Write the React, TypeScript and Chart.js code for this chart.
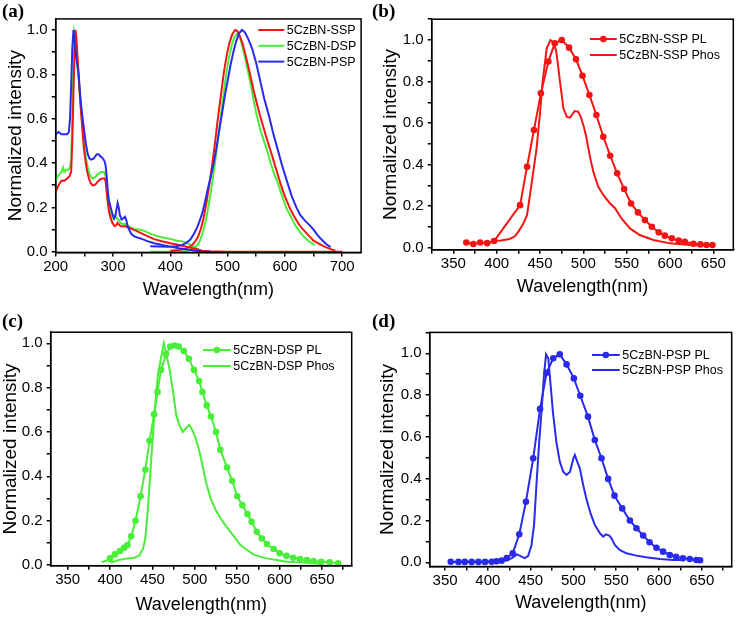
import React, { useEffect, useRef } from 'react';
import { Chart, registerables } from 'chart.js';

Chart.register(...registerables);

// ---------- Panel (a): absorption + emission ----------
const sspAbsWl = [200,205,210,215,220,224,227,229,231,233,234.5,236,238,240,243,246,249,252,255,258,261,264,267,270,273,277,281,285,287,289,291,293,296,299,303,306,308,311,314,318,322,326,330,335,340,348,360,372,385,400,415,430,445,455,470,500,550,600,650,700];
const sspAbsI = [0.27,0.3,0.32,0.32,0.33,0.34,0.36,0.5,0.72,0.9,1.0,0.97,0.88,0.8,0.67,0.57,0.47,0.41,0.36,0.33,0.31,0.3,0.3,0.305,0.315,0.325,0.33,0.33,0.32,0.27,0.22,0.18,0.15,0.13,0.115,0.12,0.13,0.12,0.115,0.115,0.115,0.11,0.107,0.1,0.095,0.085,0.07,0.057,0.047,0.038,0.03,0.022,0.012,0.005,0.002,0,0,0,0,0];
const dspAbsWl = [200,203,207,210,213,215,218,222,225,227,229,231,232.5,234,236,238,241,244,247,250,253,256,259,262,265,268,272,276,280,285,287,289,291,293,296,299,301,304,307,310,313,317,321,325,330,337,345,354,362,372,385,400,412,424,433,441,448,455,465];
const dspAbsI = [0.32,0.34,0.35,0.36,0.38,0.36,0.37,0.37,0.38,0.42,0.6,0.85,0.99,0.97,0.9,0.83,0.75,0.65,0.56,0.48,0.42,0.38,0.35,0.335,0.33,0.335,0.345,0.355,0.36,0.36,0.34,0.28,0.23,0.2,0.17,0.155,0.15,0.165,0.15,0.145,0.13,0.125,0.125,0.12,0.11,0.103,0.1,0.095,0.085,0.075,0.065,0.057,0.05,0.045,0.035,0.023,0.012,0.005,0];
const pspAbsWl = [200,205,210,215,220,223,225,227,229,231,232,234,236,238,240,242,244,247,250,253,256,259,262,266,269,272,275,278,281,285,287,289,291,293,296,299,302,304,306,308,310,312,315,318,321,323,325,328,332,338,348,360,372,386,400,415,430,445,455,470];
const pspAbsI = [0.53,0.54,0.53,0.53,0.53,0.54,0.6,0.75,0.92,1.0,0.98,0.92,0.87,0.84,0.8,0.73,0.67,0.6,0.54,0.48,0.44,0.42,0.415,0.42,0.43,0.44,0.44,0.43,0.425,0.41,0.39,0.34,0.27,0.23,0.2,0.17,0.15,0.16,0.19,0.22,0.2,0.165,0.145,0.15,0.158,0.145,0.12,0.1,0.08,0.068,0.06,0.048,0.038,0.03,0.023,0.016,0.01,0.004,0.001,0];

const sspEmWl = [400,415,425,432,438,443,448,453,458,463,468,473,478,483,488,493,498,503,508,513,517,521,526,531,536,541,546,551,556,561,566,572,578,585,592,600,608,616,624,632,640,650,660,670,680,688];
const sspEmI = [0.005,0.008,0.013,0.02,0.03,0.045,0.065,0.1,0.15,0.22,0.3,0.39,0.49,0.6,0.7,0.8,0.88,0.94,0.98,1.0,0.995,0.975,0.94,0.89,0.835,0.78,0.72,0.67,0.62,0.575,0.53,0.48,0.43,0.37,0.31,0.25,0.2,0.16,0.125,0.1,0.077,0.05,0.035,0.022,0.012,0.005];
const dspEmWl = [365,390,410,425,435,442,447,452,457,462,467,472,477,482,487,492,497,502,507,512,517,521,525,530,535,540,545,550,556,562,568,575,582,587,594,602,610,618,626,634,642,652];
const dspEmI = [0,0,0,0.003,0.008,0.015,0.03,0.05,0.09,0.14,0.21,0.29,0.38,0.48,0.59,0.69,0.79,0.87,0.93,0.97,0.985,0.97,0.935,0.88,0.82,0.76,0.69,0.625,0.56,0.51,0.466,0.4,0.345,0.316,0.26,0.2,0.16,0.12,0.09,0.065,0.047,0.03];
const pspEmWl = [365,380,395,410,420,428,435,441,447,452,456,461,466,470,475,480,485,490,495,500,505,510,515,520,525,530,536,543,550,557,564,572,579,587,595,604,612,620,627,635,643,650,657,664,672,680];
const pspEmI = [0.025,0.024,0.023,0.025,0.03,0.04,0.055,0.08,0.11,0.145,0.175,0.23,0.29,0.33,0.39,0.46,0.54,0.62,0.7,0.77,0.84,0.9,0.95,0.985,1.0,0.99,0.96,0.915,0.85,0.77,0.69,0.615,0.54,0.465,0.39,0.315,0.25,0.2,0.165,0.14,0.12,0.1,0.075,0.055,0.035,0.02];

// ---------- Panel (b): 5CzBN-SSP ----------
const sspPlWl = [365,373,381,389,397,427,435,443,451,459.6,467,475,483.5,491.5,499,507,515,523,531,539,547,555,563,571,579,587,594,602,610,617,627,635,642,649];
const sspPlI = [0.025,0.018,0.025,0.022,0.032,0.205,0.39,0.567,0.743,0.896,0.984,1.0,0.963,0.907,0.828,0.735,0.639,0.534,0.443,0.358,0.283,0.213,0.17,0.133,0.101,0.074,0.058,0.045,0.034,0.029,0.019,0.016,0.013,0.013];
const sspPhWl = [395,405,415,421,425,430,435,440,446,450,453,457.7,462,465,468.5,471,473,477,481,484.6,487,490,494,497,500,503,505.8,508.5,511.5,517,523,530.8,536.5,544,553.8,565,580.8,600,623,650];
const sspPhI = [0.033,0.035,0.042,0.055,0.077,0.11,0.157,0.3,0.478,0.65,0.8,0.96,1.0,0.99,0.95,0.87,0.8,0.67,0.63,0.626,0.64,0.658,0.655,0.63,0.59,0.54,0.478,0.42,0.366,0.294,0.254,0.213,0.19,0.141,0.093,0.061,0.037,0.021,0.013,0.01];

// ---------- Panel (c): 5CzBN-DSP ----------
const dspPlWl = [400,405.7,411.6,416.6,420.5,425,430,436,441.6,446.6,452,456,460,466,471,476,481,487,493,499,505,509,514,519,525,530,538,544,550,556,562,567,573,579,585,593,600,608,616,624,632,640,649,659,669];
const dspPlI = [0.03,0.048,0.063,0.078,0.09,0.13,0.2,0.31,0.43,0.56,0.68,0.78,0.88,0.95,0.985,0.99,0.985,0.965,0.93,0.88,0.83,0.78,0.72,0.67,0.6,0.52,0.44,0.38,0.31,0.27,0.23,0.195,0.15,0.12,0.095,0.072,0.053,0.042,0.033,0.027,0.023,0.018,0.015,0.012,0.008];
const dspPhWl = [390,398,402,410,421,429,435,439,441.6,444.7,448.6,452.5,456.4,460,463.4,466,470,474,478,481.7,485.6,489.5,493.4,497,501,505,509,513,518.7,524.6,530.4,536,542,548,553.8,561.6,569,577,585,596.7,608,624,639.5,651];
const dspPhI = [0.012,0.023,0.012,0.023,0.03,0.033,0.045,0.075,0.12,0.256,0.48,0.69,0.857,0.932,1.0,0.955,0.887,0.79,0.677,0.632,0.6,0.617,0.632,0.609,0.571,0.519,0.451,0.376,0.3,0.248,0.21,0.18,0.15,0.12,0.09,0.068,0.048,0.038,0.03,0.023,0.015,0.012,0.008,0.005];

// ---------- Panel (d): 5CzBN-PSP ----------
const pspPlWl = [356.6,365.6,373,381,389,396.7,404.5,410,416,422,429,436.7,444.5,453,461,468.6,476.4,484,492,500.5,508,517,525,532.8,540.6,548,557,566,573.7,581.5,589,597,604.8,612.6,620,628,636,643.7,648];
const pspPlI = [0.003,0.002,0.002,0.002,0.002,0.002,0.003,0.005,0.008,0.02,0.043,0.134,0.29,0.498,0.734,0.907,0.976,0.995,0.947,0.88,0.797,0.697,0.585,0.498,0.399,0.319,0.258,0.2,0.163,0.128,0.096,0.07,0.051,0.035,0.027,0.019,0.016,0.011,0.01];
const pspPhWl = [356,370,385,400,412,422,428,434,439.5,443,447,451,454,457,460,463,465.6,468,470.6,473,476,480,484,488,492,496,500,501.7,504.4,507.5,511.4,515,520,525,531,534.8,538,541.8,544.5,548.4,554,562,573.7,585,601,616.5,628];
const pspPhI = [0.002,0.002,0.003,0.004,0.006,0.01,0.02,0.038,0.027,0.02,0.03,0.083,0.18,0.386,0.577,0.737,0.896,0.995,0.976,0.864,0.72,0.577,0.482,0.434,0.418,0.434,0.498,0.514,0.482,0.45,0.37,0.306,0.234,0.179,0.139,0.123,0.134,0.128,0.115,0.083,0.059,0.043,0.032,0.024,0.016,0.011,0.011];

const RED = '#f51414';
const GREEN = '#48ee38';
const BLUE = '#2a2aec';
const FONT = '"Liberation Sans", Arial, Helvetica, sans-serif';

type Series = { wl: number[]; v: number[]; color: string; marker?: boolean; order: number };
type LegendItem = { label: string; color: string; marker?: boolean };
type Panel = {
  tag: string;
  left: number; top: number; w: number; h: number;
  xMin: number; xMax: number; xStep: number; xMajor: number;
  yMin: number; yMax: number;
  pad: { left: number; top: number; right: number; bottom: number };
  yW: number; xH: number;
  series: Series[];
  legend: LegendItem[];
  legX: number; legY: number; legGap: number; legLen: number;
};

const panels: Panel[] = [
  {
    tag: '(a)', left: 0, top: 0, w: 370, h: 310,
    xMin: 200, xMax: 733, xStep: 50, xMajor: 100, yMin: -0.003, yMax: 1.05,
    pad: { left: 6.5, top: 18.9, right: 8.9, bottom: 10.5 }, yW: 49.2, xH: 47.1,
    series: [
      { wl: dspAbsWl, v: dspAbsI, color: GREEN, order: 3 },
      { wl: dspEmWl, v: dspEmI, color: GREEN, order: 3 },
      { wl: sspAbsWl, v: sspAbsI, color: RED, order: 2 },
      { wl: sspEmWl, v: sspEmI, color: RED, order: 2 },
      { wl: pspAbsWl, v: pspAbsI, color: BLUE, order: 1 },
      { wl: pspEmWl, v: pspEmI, color: BLUE, order: 1 },
    ],
    legend: [
      { label: '5CzBN-SSP', color: RED },
      { label: '5CzBN-DSP', color: GREEN },
      { label: '5CzBN-PSP', color: BLUE },
    ],
    legX: 258.3, legY: 30, legGap: 15.8, legLen: 26,
  },
  {
    tag: '(b)', left: 370, top: 0, w: 370, h: 310,
    xMin: 325, xMax: 673, xStep: 25, xMajor: 50, yMin: -0.01, yMax: 1.1,
    pad: { left: 11.3, top: 19.2, right: 6.7, bottom: 13.5 }, yW: 50.4, xH: 46.7,
    series: [
      { wl: sspPlWl, v: sspPlI, color: RED, marker: true, order: 1 },
      { wl: sspPhWl, v: sspPhI, color: RED, order: 2 },
    ],
    legend: [
      { label: '5CzBN-SSP PL', color: RED, marker: true },
      { label: '5CzBN-SSP Phos', color: RED },
    ],
    legX: 220, legY: 39, legGap: 16, legLen: 26.7,
  },
  {
    tag: '(c)', left: 0, top: 310, w: 370, h: 311,
    xMin: 330, xMax: 685, xStep: 25, xMajor: 50, yMin: -0.003, yMax: 1.05,
    pad: { left: 1.3, top: 22.2, right: 18.3, bottom: 7 }, yW: 49.4, xH: 48.3,
    series: [
      { wl: dspPlWl, v: dspPlI, color: GREEN, marker: true, order: 1 },
      { wl: dspPhWl, v: dspPhI, color: GREEN, order: 2 },
    ],
    legend: [
      { label: '5CzBN-DSP PL', color: GREEN, marker: true },
      { label: '5CzBN-DSP Phos', color: GREEN },
    ],
    legX: 203, legY: 40, legGap: 16, legLen: 27.7,
  },
  {
    tag: '(d)', left: 370, top: 310, w: 370, h: 311,
    xMin: 332, xMax: 685, xStep: 25, xMajor: 50, yMin: -0.02, yMax: 1.1,
    pad: { left: 8, top: 22.4, right: 8.3, bottom: 9 }, yW: 51.7, xH: 45.5,
    series: [
      { wl: pspPlWl, v: pspPlI, color: BLUE, marker: true, order: 1 },
      { wl: pspPhWl, v: pspPhI, color: BLUE, order: 2 },
    ],
    legend: [
      { label: '5CzBN-PSP PL', color: BLUE, marker: true },
      { label: '5CzBN-PSP Phos', color: BLUE },
    ],
    legX: 222, legY: 45, legGap: 15, legLen: 27.7,
  },
];

const decorPlugin = {
  id: 'panelDecor',
  afterDraw(chart: any, _args: any, opts: any) {
    const { ctx, chartArea: a } = chart;
    ctx.save();
    ctx.strokeStyle = '#000';
    ctx.lineWidth = 1.5;
    ctx.strokeRect(a.left, a.top, a.right - a.left, a.bottom - a.top);
    ctx.fillStyle = '#000';
    ctx.font = 'bold 19px "Liberation Serif", "Times New Roman", serif';
    ctx.textAlign = 'left';
    ctx.textBaseline = 'top';
    ctx.fillText(opts.tag, 2, 3);
    ctx.font = `12.5px ${FONT}`;
    ctx.textBaseline = 'middle';
    (opts.legend as LegendItem[]).forEach((it, i) => {
      const y = opts.legY + i * opts.legGap;
      ctx.strokeStyle = it.color;
      ctx.lineWidth = 2;
      ctx.beginPath();
      ctx.moveTo(opts.legX, y);
      ctx.lineTo(opts.legX + opts.legLen, y);
      ctx.stroke();
      if (it.marker) {
        ctx.fillStyle = it.color;
        ctx.beginPath();
        ctx.arc(opts.legX + opts.legLen / 2, y, 3.3, 0, Math.PI * 2);
        ctx.fill();
      }
      ctx.fillStyle = '#000';
      ctx.fillText(it.label, opts.legX + opts.legLen + 2.5, y + 0.5);
    });
    ctx.restore();
  },
};

function PanelChart({ p }: { p: Panel }) {
  const ref = useRef<HTMLCanvasElement | null>(null);
  useEffect(() => {
    if (!ref.current) return;
    const chart = new Chart(ref.current, {
      type: 'scatter',
      data: {
        datasets: p.series.map((s) => ({
          data: s.wl.map((x, i) => ({ x, y: s.v[i] })),
          showLine: true,
          borderColor: s.color,
          backgroundColor: s.color,
          borderWidth: 2,
          pointRadius: s.marker ? 3.3 : 0,
          pointBorderWidth: 0,
          pointHoverRadius: 0,
          tension: 0,
          order: s.order,
        })),
      },
      options: {
        responsive: false,
        animation: false,
        devicePixelRatio: 1,
        events: [],
        layout: { padding: p.pad },
        plugins: {
          legend: { display: false },
          tooltip: { enabled: false },
          panelDecor: { tag: p.tag, legend: p.legend, legX: p.legX, legY: p.legY, legGap: p.legGap, legLen: p.legLen },
        } as any,
        scales: {
          x: {
            type: 'linear',
            position: 'bottom',
            min: p.xMin,
            max: p.xMax,
            afterFit: (s: any) => { s.height = p.xH; },
            border: { display: true, color: '#000', width: 1.5 },
            grid: { display: true, drawOnChartArea: false, drawTicks: true, tickLength: 4, color: '#000', lineWidth: 1.5 },
            ticks: {
              stepSize: p.xStep,
              autoSkip: false,
              includeBounds: false,
              maxRotation: 0,
              padding: 1,
              color: '#000',
              font: { family: FONT, size: 15 },
              callback: (v: any) => (Math.round(v) % p.xMajor === 0 ? String(Math.round(v)) : ''),
            },
            title: { display: true, text: 'Wavelength(nm)', color: '#000', font: { family: FONT, size: 18, lineHeight: 1 }, padding: 0 },
          },
          y: {
            type: 'linear',
            position: 'left',
            min: p.yMin,
            max: p.yMax,
            afterFit: (s: any) => { s.width = p.yW; },
            border: { display: true, color: '#000', width: 1.5 },
            grid: { display: true, drawOnChartArea: false, drawTicks: true, tickLength: 4, color: '#000', lineWidth: 1.5 },
            ticks: {
              stepSize: 0.1,
              autoSkip: false,
              includeBounds: false,
              padding: 4,
              color: '#000',
              font: { family: FONT, size: 15 },
              callback: (v: any) => {
                const k = Math.round(v * 10);
                return k % 2 === 0 ? (k / 10).toFixed(1) : '';
              },
            },
            title: { display: true, text: 'Normalized intensity', color: '#000', font: { family: FONT, size: 19, lineHeight: 1 }, padding: 0 },
          },
        },
      } as any,
      plugins: [decorPlugin],
    });
    return () => chart.destroy();
  }, [p]);
  return (
    <canvas
      ref={ref}
      width={p.w}
      height={p.h}
      style={{ position: 'absolute', left: p.left, top: p.top, width: p.w, height: p.h }}
    />
  );
}

export default function App() {
  return (
    <div style={{ position: 'fixed', left: 0, top: 0, width: 740, height: 621, background: '#fff', overflow: 'hidden' }}>
      {panels.map((p) => (
        <PanelChart key={p.tag} p={p} />
      ))}
    </div>
  );
}
